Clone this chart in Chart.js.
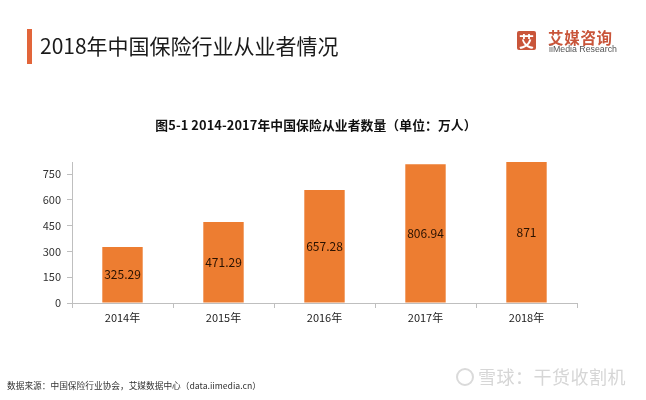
<!DOCTYPE html>
<html><head><meta charset="utf-8">
<script src="https://cdn.jsdelivr.net/npm/chart.js@4"></script>
<style>
html,body{margin:0;padding:0;background:#fff;width:646px;height:400px;overflow:hidden;font-family:"Noto Sans CJK SC","Noto Sans",sans-serif;}
#wrap{position:relative;width:646px;height:400px;}
canvas{position:absolute;left:0;top:0;}
.abs{position:absolute;white-space:nowrap;}
</style></head>
<body><div id="wrap">
<canvas id="c" width="646" height="400"></canvas>
<div class="abs" style="left:27px;top:29px;width:5px;height:35px;background:#e2653a;"></div>
<div class="abs" style="left:40px;top:30px;font-size:21px;line-height:30px;color:#1a1a1a;">2018年中国保险行业从业者情况</div>
<div class="abs" style="left:517px;top:31px;width:19px;height:19px;background:#c9553a;border-radius:2px;color:#fff;font-size:15px;line-height:19px;text-align:center;font-weight:700;">艾</div>
<div class="abs" style="left:548px;top:28px;font-size:15.5px;line-height:18px;color:#c9553a;font-weight:700;letter-spacing:0.7px;">艾媒咨询</div>
<div class="abs" style="left:549px;top:44px;font-size:8.8px;line-height:10px;color:#555;font-family:'Liberation Sans',sans-serif;">iiMedia Research</div>
<div class="abs" style="left:150px;top:116px;width:332px;text-align:center;font-size:12.8px;line-height:18px;color:#111;font-weight:700;letter-spacing:0.1px;">图5-1 2014-2017年中国保险从业者数量（单位：万人）</div>
<div class="abs" style="left:7px;top:379px;font-size:8.7px;line-height:13px;color:#333;">数据来源：中国保险行业协会，艾媒数据中心（data.iimedia.cn）</div>
<div class="abs" style="left:456px;top:368px;width:14px;height:14px;border:2px solid #dadada;border-radius:50%;"></div>
<div class="abs" style="left:478px;top:363px;font-size:18px;line-height:26px;color:#d6d6d6;letter-spacing:0.5px;">雪球：干货收割机</div>
</div>
<script>
const categories = ["2014年","2015年","2016年","2017年","2018年"];
const values = [325.29, 471.29, 657.28, 806.94, 871];
const valueLabels = ["325.29","471.29","657.28","806.94","871"];
const yTicks = [0,150,300,450,600,750];

const labelPlugin = {
  id:'barLabels',
  afterDatasetsDraw(chart){
    const ctx = chart.ctx, area = chart.chartArea;
    const meta = chart.getDatasetMeta(0);
    ctx.save();
    ctx.font = '12px "Noto Sans CJK SC","Noto Sans",sans-serif';
    ctx.fillStyle = '#2a1200';
    ctx.textAlign = 'center';
    ctx.textBaseline = 'middle';
    meta.data.forEach((el,i)=>{
      const top = Math.max(el.y, area.top);
      const cy = (top + el.base)/2;
      ctx.fillText(valueLabels[i], el.x, cy);
    });
    ctx.restore();
  }
};

new Chart(document.getElementById('c'), {
  type:'bar',
  data:{labels:categories, datasets:[{data:values, backgroundColor:'#ed7d31', barPercentage:0.4, categoryPercentage:1.0}]},
  options:{
    responsive:false, animation:false, devicePixelRatio:1,
    layout:{padding:{left:0,right:69,top:162,bottom:0}},
    plugins:{legend:{display:false},title:{display:false},tooltip:{enabled:false}},
    scales:{
      x:{
        grid:{display:true, offset:true, drawOnChartArea:false, tickLength:5, color:'#bfbfbf'},
        border:{display:true,color:'#bfbfbf'},
        ticks:{color:'#222', font:{size:11, family:'"Noto Sans CJK SC","Noto Sans",sans-serif'}, padding:3, maxRotation:0},
        afterFit(s){ s.height = 97; }
      },
      y:{
        min:0, max:820,
        grid:{display:true, drawOnChartArea:false, tickLength:5, color:'#bfbfbf'},
        border:{display:true,color:'#bfbfbf'},
        ticks:{stepSize:150, color:'#333', padding:6, font:{size:11, family:'"Noto Sans CJK SC","Noto Sans",sans-serif'}},
        afterBuildTicks(s){ s.ticks = yTicks.map(v=>({value:v})); },
        afterFit(s){ s.width = 72; }
      }
    }
  },
  plugins:[labelPlugin]
});
</script>
</body></html>
